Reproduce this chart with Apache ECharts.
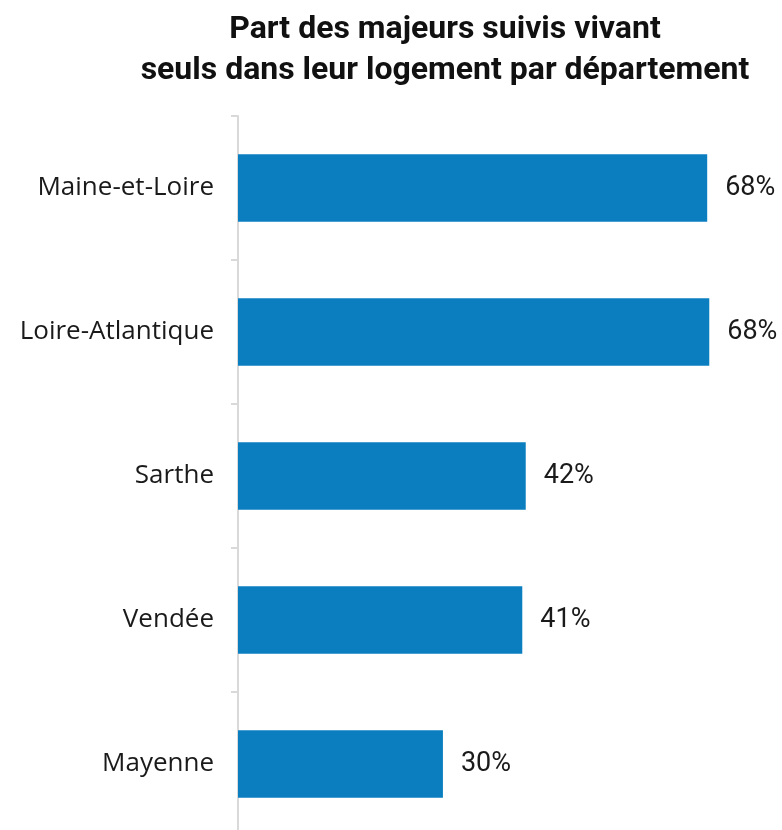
<!DOCTYPE html>
<html>
<head>
<meta charset="utf-8">
<script src="https://cdn.jsdelivr.net/npm/echarts@6/dist/echarts.min.js"></script>
<style>
html, body { margin: 0; padding: 0; background: #fff; }
#container { width: 782px; height: 830px; }
</style>
</head>
<body>
<div id="container"></div>
<script>
// departements, top to bottom as in the picture
let departements = ['Maine-et-Loire', 'Loire-Atlantique', 'Sarthe', 'Vendée', 'Mayenne'];
// share of followed adults living alone, in %
let parts = [68.0, 68.3, 41.7, 41.2, 29.7];

let dom = document.getElementById('container');
let chart = echarts.init(dom);

chart.setOption({
    animation: false,
    title: {
        text: 'Part des majeurs suivis vivant\nseuls dans leur logement par département',
        left: 440,
        textAlign: 'center',
        top: 4,
        textStyle: {
            fontFamily: 'Roboto',
            fontWeight: 'bold',
            fontSize: 32,
            lineHeight: 41,
            color: '#111'
        }
    },
    grid: {
        left: 238,
        top: 116,
        width: 552,
        height: 720,
        outerBoundsMode: 'none'
    },
    xAxis: {
        type: 'value',
        min: 0,
        max: 80,
        show: false
    },
    yAxis: {
        type: 'category',
        inverse: true,
        data: departements,
        axisLine: { lineStyle: { color: '#d9d9d9', width: 2 } },
        axisTick: { show: true, length: 7, lineStyle: { color: '#d9d9d9', width: 2 } },
        axisLabel: {
            margin: 24,
            fontFamily: 'Open Sans',
            fontSize: 26,
            color: '#1a1a1a'
        }
    },
    series: [{
        type: 'bar',
        data: parts,
        barCategoryGap: '53%',
        itemStyle: { color: '#0a7ebf' },
        label: {
            show: true,
            position: 'right',
            distance: 18,
            fontFamily: 'Roboto',
            fontSize: 27,
            color: '#1a1a1a',
            formatter: (p) => Math.round(p.value) + '%'
        }
    }]
});
</script>
</body>
</html>
